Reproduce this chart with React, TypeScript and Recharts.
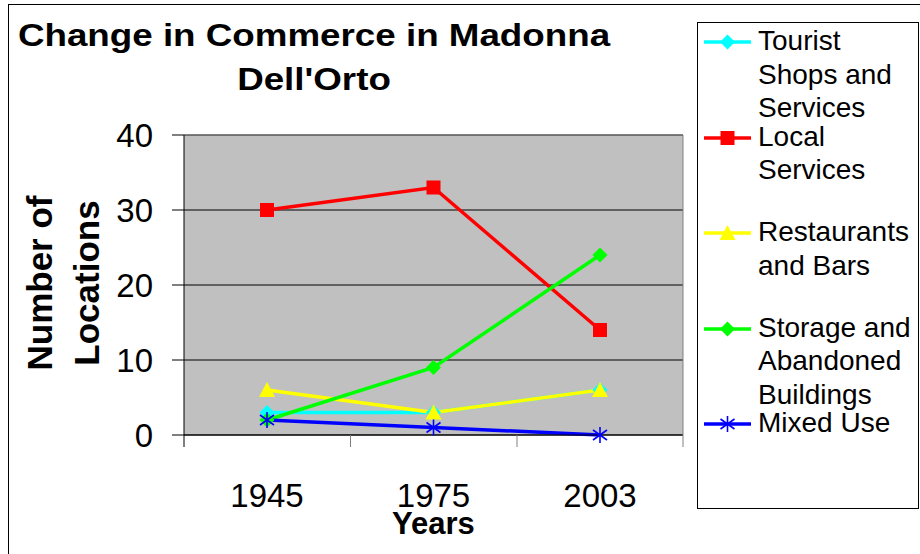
import React from "react";
import { LineChart, Line, XAxis, YAxis, CartesianGrid, Legend, ReferenceLine } from "recharts";

const years = ["1945", "1975", "2003"];
const touristShops = [3, 3, 6];
const localServices = [30, 33, 14];
const restaurantsBars = [6, 3, 6];
const storageAbandoned = [2, 9, 24];
const mixedUse = [2, 1, 0];
const yTicks = [0, 10, 20, 30, 40];

const series = [
    { key: "tourist", name: "Tourist Shops and Services", color: "#00FFFF", shape: "diamond" },
    { key: "local", name: "Local Services", color: "#FF0000", shape: "square" },
    { key: "restaurants", name: "Restaurants and Bars", color: "#FFFF00", shape: "triangle" },
    { key: "storage", name: "Storage and Abandoned Buildings", color: "#00FF00", shape: "diamond" },
    { key: "mixed", name: "Mixed Use", color: "#0000FF", shape: "star" },
];

const data = years.map((year, i) => ({
    year,
    tourist: touristShops[i],
    local: localServices[i],
    restaurants: restaurantsBars[i],
    storage: storageAbandoned[i],
    mixed: mixedUse[i],
}));

const FONT = "'Liberation Sans', Arial, sans-serif";
const HALF_BAND = 83;

const Marker = ({ shape, cx, cy, color }) => {
    if (cx == null || cy == null) return null;
    if (shape === "square") {
        return <rect x={cx - 7} y={cy - 7} width={14} height={14} fill={color} />;
    }
    if (shape === "triangle") {
        return <polygon points={`${cx},${cy - 8} ${cx + 8},${cy + 7} ${cx - 8},${cy + 7}`} fill={color} />;
    }
    if (shape === "star") {
        return (
            <g stroke={color} strokeWidth={1.6}>
                <line x1={cx} y1={cy - 8} x2={cx} y2={cy + 8} />
                <line x1={cx - 7} y1={cy - 5} x2={cx + 7} y2={cy + 5} />
                <line x1={cx - 7} y1={cy + 5} x2={cx + 7} y2={cy - 5} />
            </g>
        );
    }
    return <polygon points={`${cx},${cy - 7.5} ${cx + 7.5},${cy} ${cx},${cy + 7.5} ${cx - 7.5},${cy}`} fill={color} />;
};

const YearTick = (props) => {
    const { x, y, payload, index } = props;
    const last = index === years.length - 1;
    return (
        <g>
            <line x1={x - HALF_BAND} y1={y} x2={x - HALF_BAND} y2={y + 12} stroke={index === 0 ? "#000" : "#808080"} />
            {last && <line x1={x + HALF_BAND} y1={y - 300} x2={x + HALF_BAND} y2={y + 12} stroke="#808080" />}
            <text x={x} y={y + 72} textAnchor="middle" fontSize={33} fontFamily={FONT} fill="#000">
                {payload.value}
            </text>
        </g>
    );
};

const YTitle = () => (
    <text transform="rotate(-90, 52, 283)" x={52} y={283} textAnchor="middle" fontSize={35} fontWeight="bold" fontFamily={FONT} fill="#000">
        <tspan x={52} dy={0}>Number of</tspan>
        <tspan x={52} dy={47}>Locations</tspan>
    </text>
);

const renderLegend = (props) => {
    const payload = props.payload || [];
    return (
        <div style={{ width: 222, height: 487, border: "1px solid #000", boxSizing: "border-box", background: "#fff", position: "relative", fontFamily: FONT, fontSize: 28, lineHeight: "33.5px", color: "#000" }}>
            {series.map((s, i) => {
                const item = payload.find((p) => p.dataKey === s.key);
                const label = item ? item.value : s.name;
                return (
                    <div key={s.key} style={{ position: "absolute", left: 0, top: 1 + i * 95.6, width: 220 }}>
                        <svg width={50} height={20} style={{ position: "absolute", left: 6, top: 8 }}>
                            <line x1={0} y1={10} x2={47} y2={10} stroke={s.color} strokeWidth={3.5} />
                            <Marker shape={s.shape} cx={23.5} cy={10} color={s.color} />
                        </svg>
                        <div style={{ position: "absolute", left: 60, top: 0, width: 160 }}>{label}</div>
                    </div>
                );
            })}
        </div>
    );
};

export default function App() {
    return (
        <div style={{ position: "absolute", left: 0, top: 0, width: 920, height: 554, background: "#fff", overflow: "hidden" }}>
            <LineChart width={920} height={554} data={data} margin={{ top: 135, right: 237, bottom: 0, left: 124 }}>
                <CartesianGrid vertical={false} stroke="#000" fill="#C0C0C0" fillOpacity={1} />
                <ReferenceLine y={40} stroke="#808080" />
                <XAxis
                    dataKey="year"
                    height={119}
                    padding={{ left: HALF_BAND, right: HALF_BAND }}
                    axisLine={{ stroke: "#000" }}
                    tickLine={false}
                    tickSize={0}
                    tickMargin={0}
                    tick={<YearTick />}
                    interval={0}
                    label={{ value: "Years", position: "insideBottom", offset: 20, style: { fontSize: 31, fontWeight: "bold", fontFamily: FONT, fill: "#000" } }}
                />
                <YAxis
                    domain={[0, 40]}
                    ticks={yTicks}
                    interval={0}
                    width={60}
                    tickSize={12}
                    tickMargin={19}
                    axisLine={{ stroke: "#000" }}
                    tickLine={{ stroke: "#000" }}
                    tick={{ fontSize: 33, fill: "#000", fontFamily: FONT }}
                    label={{ content: <YTitle /> }}
                />
                <Legend
                    layout="vertical"
                    align="center"
                    verticalAlign="middle"
                    content={renderLegend}
                    wrapperStyle={{ left: 697, top: 22, width: 222, height: 487 }}
                />
                {series.map((s) => (
                    <Line
                        key={s.key}
                        type="linear"
                        dataKey={s.key}
                        name={s.name}
                        stroke={s.color}
                        strokeWidth={3.5}
                        isAnimationActive={false}
                        dot={(p) => <Marker key={`${s.key}-${p.index}`} shape={s.shape} cx={p.cx} cy={p.cy} color={s.color} />}
                        activeDot={false}
                    />
                ))}
            </LineChart>
            <svg width={920} height={554} style={{ position: "absolute", left: 0, top: 0, pointerEvents: "none" }}>
                <rect x={8.5} y={4.5} width={930} height={570} fill="none" stroke="#000" />
                <g transform="translate(314,0) scale(1.16,1)" fontFamily={FONT} fontWeight="bold" fontSize={31.7} fill="#000">
                    <text x={0} y={46} textAnchor="middle">Change in Commerce in Madonna</text>
                    <text x={0} y={90} textAnchor="middle">Dell'Orto</text>
                </g>
            </svg>
        </div>
    );
}
